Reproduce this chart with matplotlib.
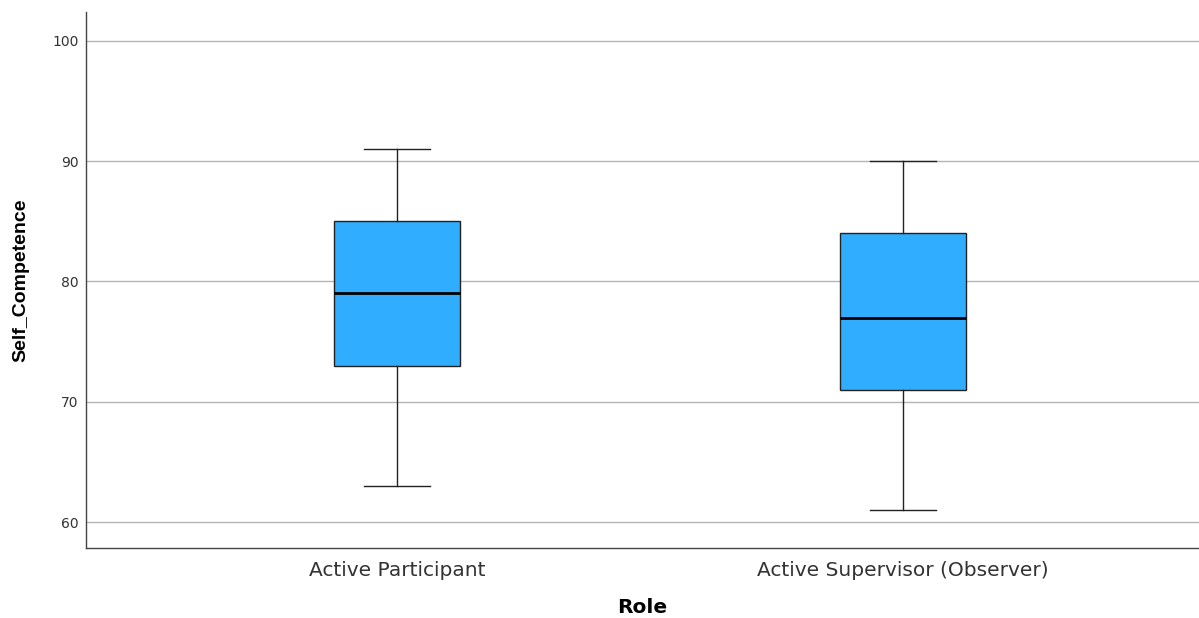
import matplotlib
matplotlib.use('Agg')
import matplotlib.pyplot as plt

plt.rcParams['font.family'] = ['Liberation Sans', 'DejaVu Sans']

# 数据
roles = ['Active Participant', 'Active Supervisor (Observer)']
whisker_low = [63, 61]
q1 = [73, 71]
median = [79, 77]
q3 = [85, 84]
whisker_high = [91, 90]

stats = []
for i, r in enumerate(roles):
    stats.append({'label': r, 'whislo': whisker_low[i], 'q1': q1[i], 'med': median[i],
                  'q3': q3[i], 'whishi': whisker_high[i], 'fliers': []})

fig = plt.figure(figsize=(11.99, 6.18), dpi=100)
ax = fig.add_axes([86 / 1199, 70 / 618, 1 - 86 / 1199, (548 - 12) / 618])

# 网格线
ax.set_axisbelow(True)
ax.yaxis.grid(True, color='#b4b4b4', linewidth=1)

ax.bxp(stats, positions=[0, 1], widths=0.249, capwidths=0.13, patch_artist=True,
       boxprops=dict(facecolor='#30adfe', edgecolor='#222222', linewidth=1),
       medianprops=dict(color='black', linewidth=2),
       whiskerprops=dict(color='#222222', linewidth=1),
       capprops=dict(color='#222222', linewidth=1))

ax.set_xlim(-0.6146, 1.585)
ax.set_ylim(57.84, 102.4)
ax.set_yticks([60, 70, 80, 90, 100])
ax.set_xticks([0, 1])
ax.set_xticklabels(roles, fontsize=14.5, family='DejaVu Sans', color='#333333')
ax.set_yticklabels([60, 70, 80, 90, 100], fontsize=10, family='DejaVu Sans', color='#333333')
ax.tick_params(axis='y', length=0, pad=5.5)
ax.tick_params(axis='x', length=0, pad=9)

for s in ['top', 'right']:
    ax.spines[s].set_visible(False)
for s in ['left', 'bottom']:
    ax.spines[s].set_color('#444444')
    ax.spines[s].set_linewidth(1)

ax.set_ylabel('Self_Competence', fontsize=14, fontweight='bold', labelpad=16)
ax.set_xlabel('Role', fontsize=14.5, fontweight='bold', family='DejaVu Sans', labelpad=13)

fig.savefig('out.png', dpi=100)
